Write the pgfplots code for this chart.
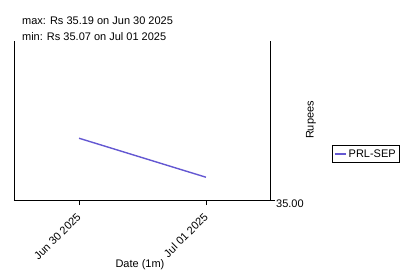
\documentclass[border=0pt]{standalone}
\usepackage{fontspec}
\setmainfont{Liberation Sans}
\usepackage{pgfplots}
\pgfplotsset{compat=1.18}
\definecolor{lc}{RGB}{100,88,210}
\begin{document}
\fontsize{11}{13}\selectfont
\begin{tikzpicture}[x=1pt,y=1pt]
\useasboundingbox (0,0) rectangle (405,274);
\begin{axis}[
 at={(14pt,74pt)}, anchor=south west,
 width=256pt, height=159pt, scale only axis,
 xmin=-0.512, xmax=1.504, ymin=35.0, ymax=35.489,
 axis x line*=bottom, axis y line*=right,
 axis line style={line width=0.8pt, -},
 tick align=outside, major tick length=5pt,
 every tick/.style={black, line width=0.8pt},
 xtick={0,1}, xticklabels={Jun 30 2025, Jul 01 2025},
 xticklabel style={rotate=45, anchor=east, inner sep=0pt, yshift=-7pt, xshift=-7pt, font=\fontsize{11}{13}\selectfont},
 ytick={35},
 yticklabel style={/pgf/number format/.cd, fixed, fixed zerofill, precision=2, /tikz/.cd, font=\fontsize{11}{13}\selectfont, inner sep=1pt, yshift=-3.5pt},
 /pgf/number format/assume math mode=true,
 xlabel={Date (1m)},
 xlabel style={at={(axis description cs:0.492,-0.409)}, anchor=center, font=\fontsize{11}{13}\selectfont},
 ylabel={Rupees},
 ylabel style={at={(axis description cs:1.16,0.503)}, anchor=center, rotate=0, font=\fontsize{11}{13}\selectfont},
 legend style={at={(axis description cs:1.375,0.289)}, anchor=center, draw=black, line width=0.8pt, font=\fontsize{11}{13}\selectfont, inner sep=2pt},
 legend image code/.code={\draw[#1] (0pt,0pt) -- (11pt,0pt);},
 clip=false,
]
\addplot[color=lc, line width=1.4pt] coordinates {(0,35.19) (1,35.07)};
\addlegendentry{PRL-SEP}
\draw[line width=0.8pt] (rel axis cs:0,0) -- (rel axis cs:0,1);
\node[anchor=base west, inner sep=0pt] at (axis description cs:0.031,1.104) {max: Rs 35.19 on Jun 30 2025};
\node[anchor=base west, inner sep=0pt] at (axis description cs:0.031,1.006) {min: Rs 35.07 on Jul 01 2025};
\end{axis}
\end{tikzpicture}
\end{document}
